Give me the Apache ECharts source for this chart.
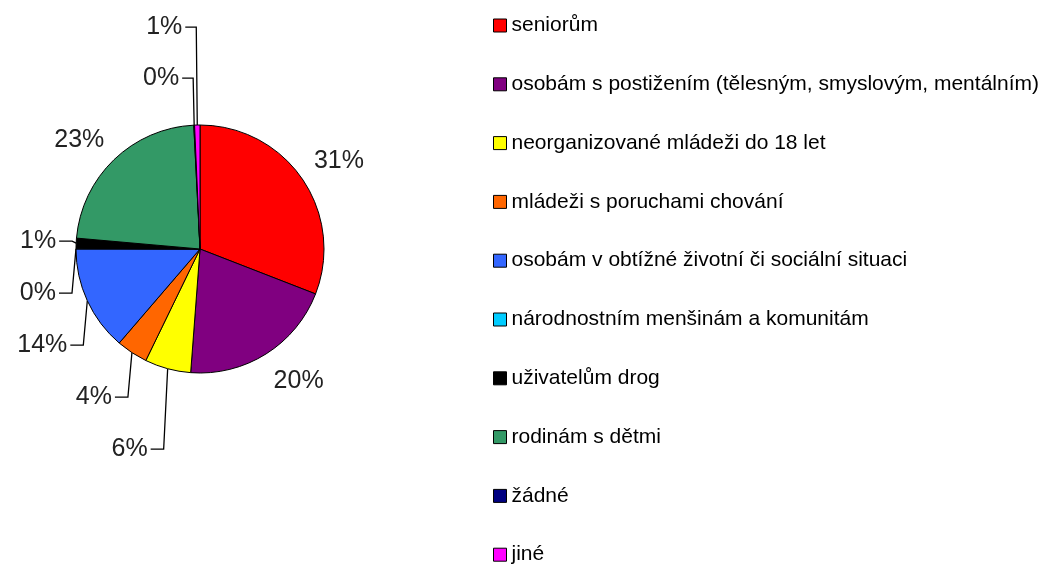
<!DOCTYPE html>
<html>
<head>
<meta charset="utf-8">
<script src="https://cdn.jsdelivr.net/npm/echarts@6/dist/echarts.min.js"></script>
<style>
  html, body { margin: 0; padding: 0; background: #fff; }
  #chart { width: 1050px; height: 564px; }
</style>
</head>
<body>
<div id="chart"></div>
<script>
// categories and shares (percent)
const categories = [
  "seniorům",
  "osobám s postižením (tělesným, smyslovým, mentálním)",
  "neorganizované mládeži do 18 let",
  "mládeži s poruchami chování",
  "osobám v obtížné životní či sociální situaci",
  "národnostním menšinám a komunitám",
  "uživatelům drog",
  "rodinám s dětmi",
  "žádné",
  "jiné"
];
const shares = [30.9, 20.3, 6.0, 4.1, 13.7, 0.1, 1.3, 22.8, 0.1, 0.7];
const colors = ["#FF0000", "#800080", "#FFFF00", "#FF6600", "#3366FF",
                "#00CCFF", "#000000", "#339966", "#000080", "#FF00FF"];

const CX = 200, CY = 249, R = 124;

// label placement, excel style: big slices get a label just outside,
// small ones get stacked labels with a leader line
const total = shares.reduce((a, b) => a + b, 0);
let acc = 0;
const mids = shares.map(v => {
  const a = (acc + v / 2) / total * 2 * Math.PI;
  acc += v;
  return a;
});
const edges = mids.map(a => [CX + R * Math.sin(a), CY - R * Math.cos(a)]);
const leader = shares.map(v => v / total * 100 < 15);

const labelPos = [];
mids.forEach((a, i) => {
  if (!leader[i]) {
    const sx = Math.sin(a), sy = -Math.cos(a);
    labelPos[i] = {
      x: CX + (R + 14) * sx,
      y: CY + (R + 14) * sy + 3,
      align: sx > 0 ? "left" : "right",
      verticalAlign: sy > 0 ? "top" : "bottom"
    };
  }
});
// lower-left group, stacked downwards
const lower = mids.map((a, i) => i).filter(i => leader[i] && edges[i][1] >= CY - 20)
  .sort((p, q) => edges[p][1] - edges[q][1]);
let prev = -1e9;
lower.forEach(i => {
  const [ex, ey] = edges[i];
  const y = Math.max(ey - 2, prev + 52);
  prev = y;
  labelPos[i] = {
    x: ex - 20, y: y, align: "right", verticalAlign: "middle",
    labelLinePoints: [[ex, ey], [ex - 4, y], [ex - 17, y]]
  };
});
// upper group, stacked upwards
const upper = mids.map((a, i) => i).filter(i => leader[i] && edges[i][1] < CY - 20)
  .sort((p, q) => edges[p][0] - edges[q][0]);
prev = 1e9;
upper.forEach(i => {
  const [ex, ey] = edges[i];
  const y = Math.min(ey - 47, prev - 51);
  prev = y;
  labelPos[i] = {
    x: ex - 15, y: y, align: "right", verticalAlign: "middle",
    labelLinePoints: [[ex, ey], [ex - 1, y], [ex - 12, y]]
  };
});

const chart = echarts.init(document.getElementById("chart"));

const option = {
  animation: false,
  color: colors,
  legend: {
    orient: "vertical",
    left: 493,
    top: 15,
    height: 560,
    padding: 0,
    icon: "rect",
    itemWidth: 13,
    itemHeight: 13,
    itemGap: 37.8,
    itemStyle: { borderColor: "#000", borderWidth: 1 },
    textStyle: {
      fontFamily: "Liberation Sans",
      fontSize: 21,
      color: "#000"
    },
    data: categories
  },
  series: [
    {
      type: "pie",
      center: [CX, CY],
      radius: R,
      startAngle: 90,
      clockwise: true,
      avoidLabelOverlap: false,
      emphasis: { disabled: true },
      itemStyle: { borderColor: "#000", borderWidth: 1 },
      label: {
        show: true,
        position: "outside",
        fontFamily: "Liberation Sans",
        fontSize: 25,
        color: "#222",
        formatter: p => Math.round(p.percent) + "%"
      },
      labelLine: {
        show: true,
        length: 10,
        length2: 10,
        lineStyle: { color: "#000", width: 1.3 }
      },
      labelLayout: params => labelPos[params.dataIndex],
      data: categories.map((name, i) => ({
        name: name,
        value: shares[i],
        labelLine: { show: leader[i] }
      }))
    }
  ]
};

chart.setOption(option);
</script>
</body>
</html>
